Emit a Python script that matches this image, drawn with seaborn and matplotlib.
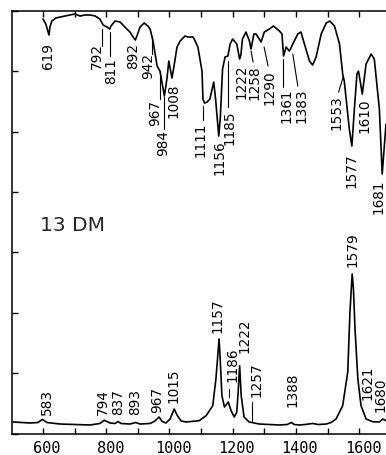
import numpy as np
import pandas as pd
import matplotlib
matplotlib.use("Agg")
import matplotlib.pyplot as plt
import matplotlib.transforms as mtransforms
from matplotlib.ticker import MultipleLocator, FuncFormatter
import seaborn as sns

# ---------------- data ----------------
# IR spectrum (upper trace, transmission-like, dips downward)
ir_wn = [600, 609, 619, 622, 628, 641, 654, 670, 685, 701, 717, 733, 749, 765, 780,
         790, 796, 803, 811, 815, 828, 844, 859, 875, 885, 892, 897, 907, 920, 932,
         939, 948, 961, 970, 984, 992, 998, 1008, 1014, 1024, 1034, 1049, 1059, 1075,
         1090, 1103, 1106, 1111, 1119, 1128, 1140, 1146, 1156, 1161, 1168, 1176, 1185,
         1192, 1200, 1213, 1222, 1226, 1231, 1242, 1253, 1258, 1267, 1274, 1290, 1300,
         1316, 1329, 1348, 1356, 1361, 1369, 1379, 1383, 1390, 1406, 1416, 1427, 1443,
         1453, 1464, 1480, 1496, 1507, 1522, 1538, 1548, 1553, 1559, 1569, 1577, 1585,
         1593, 1598, 1610, 1622, 1638, 1648, 1664, 1673, 1679, 1685]
ir_val = [6.867, 6.784, 6.602, 6.735, 6.834, 6.884, 6.900, 6.917, 6.934, 6.950, 6.917,
          6.934, 6.934, 6.917, 6.867, 6.768, 6.751, 6.735, 6.701, 6.751, 6.834, 6.817,
          6.735, 6.652, 6.569, 6.519, 6.585, 6.735, 6.801, 6.751, 6.701, 6.503, 6.088,
          6.005, 5.591, 5.872, 6.171, 5.889, 6.072, 6.403, 6.503, 6.585, 6.569, 6.569,
          6.403, 6.005, 5.541, 5.474, 5.491, 5.541, 5.822, 5.541, 4.928, 5.243, 6.038,
          6.238, 6.254, 6.453, 6.536, 6.453, 6.204, 6.271, 6.536, 6.652, 6.503, 6.370,
          6.619, 6.619, 6.486, 6.652, 6.701, 6.751, 6.668, 6.619, 6.254, 6.403, 6.337,
          6.370, 6.453, 6.619, 6.652, 6.453, 6.171, 6.105, 6.238, 6.619, 6.801, 6.834,
          6.751, 6.453, 5.955, 5.839, 5.541, 5.044, 4.762, 5.375, 5.955, 6.005, 5.624,
          6.122, 6.287, 6.204, 5.375, 4.300, 4.712, 5.127]

# Raman spectrum (lower trace, peaks upward)
raman_wn = [505, 559, 584, 598, 613, 654, 749, 780, 794, 812, 828, 837, 847, 875, 893,
            907, 939, 954, 967, 977, 989, 1002, 1015, 1024, 1037, 1053, 1094, 1116,
            1137, 1147, 1157, 1161, 1166, 1174, 1186, 1195, 1205, 1213, 1217, 1222,
            1227, 1236, 1252, 1284, 1348, 1372, 1386, 1395, 1411, 1429, 1453, 1470,
            1496, 1511, 1527, 1548, 1564, 1571, 1578, 1582, 1587, 1596, 1606, 1622,
            1643, 1664, 1675, 1685]
raman_val = [0.191, 0.174, 0.182, 0.232, 0.182, 0.157, 0.141, 0.166, 0.219, 0.174,
             0.166, 0.199, 0.166, 0.157, 0.182, 0.157, 0.166, 0.207, 0.273, 0.199,
             0.174, 0.240, 0.406, 0.306, 0.207, 0.191, 0.212, 0.295, 0.461, 0.903,
             1.566, 1.185, 0.626, 0.439, 0.522, 0.378, 0.273, 0.356, 0.654, 1.123,
             0.626, 0.273, 0.191, 0.157, 0.141, 0.149, 0.182, 0.149, 0.141, 0.149,
             0.166, 0.149, 0.157, 0.182, 0.240, 0.461, 1.019, 2.013, 2.643, 2.394,
             1.731, 0.903, 0.461, 0.240, 0.195, 0.191, 0.240, 0.212]

# peak labels
ir_labels = ["619", "792", "811", "892", "942", "967", "984", "1008", "1111", "1156",
             "1185", "1222", "1258", "1290", "1361", "1383", "1553", "1577", "1610", "1681"]
raman_labels = ["583", "794", "837", "893", "967", "1015", "1157", "1186", "1222",
                "1257", "1388", "1579", "1621", "1680"]
sample_name = "13 DM"
x_tick_values = [600, 800, 1000, 1200, 1400, 1600]

# ---------------- layout (annotation placement) ----------------
# (x, top-of-label y) for IR labels
ir_label_pos = [(616.8, 6.486), (770.9, 6.486), (816.8, 6.238), (886.4, 6.486),
                (933.9, 6.320), (954.4, 5.541), (980.7, 5.052), (1012.3, 5.822),
                (1100.0, 5.161), (1157.9, 4.879), (1189.6, 5.375), (1226.6, 6.122),
                (1268.7, 6.122), (1316.2, 6.038), (1369.0, 5.740), (1416.5, 5.740),
                (1527.2, 5.624), (1574.7, 4.664), (1616.8, 5.574), (1662.0, 4.217)]
ir_leaders = [((786.7, 6.701), (786.7, 6.420)), ((812.0, 6.652), (812.0, 6.254)),
              ((943.4, 6.585), (943.4, 6.287)), ((970.3, 6.005), (970.3, 5.541)),
              ((982.9, 5.574), (982.9, 5.052)), ((1107.3, 5.426), (1107.3, 5.194)),
              ((1184.5, 6.171), (1184.5, 5.408)), ((1258.2, 6.337), (1264.6, 6.155)),
              ((1299.4, 6.403), (1312.0, 6.088)), ((1360.5, 6.204), (1360.5, 5.740)),
              ((1390.2, 6.287), (1406.0, 5.757)), ((1549.4, 5.905), (1535.1, 5.657))]
# (x, bottom-of-label y) for Raman labels
raman_label_pos = [(611.7, 0.323), (789.9, 0.323), (836.4, 0.323), (891.1, 0.323),
                   (959.8, 0.356), (1014.6, 0.522), (1152.9, 1.682), (1200.3, 0.870),
                   (1237.0, 1.350), (1276.3, 0.621), (1388.0, 0.456), (1580.1, 2.775),
                   (1627.6, 0.571), (1667.0, 0.373)]
raman_leaders = [((1187.7, 0.605), (1187.7, 0.737)), ((1259.8, 0.207), (1259.8, 0.522))]

# ---------------- plotting ----------------
sns.set_style("ticks")
plt.rcParams["font.family"] = ["DejaVu Sans"]

W, H = 386, 456
fig = plt.figure(figsize=(W / 100, H / 100), dpi=100)
ax = fig.add_axes([12 / W, (H - 434.5) / H, (W - 12) / W, (434.5 - 12) / H])

ir_df = pd.DataFrame({"wavenumber": ir_wn, "signal": ir_val})
ra_df = pd.DataFrame({"wavenumber": raman_wn, "signal": raman_val})
sns.lineplot(data=ir_df, x="wavenumber", y="signal", ax=ax, color="black",
             lw=1.2, estimator=None, sort=False)
sns.lineplot(data=ra_df, x="wavenumber", y="signal", ax=ax, color="black",
             lw=1.2, estimator=None, sort=False)

ax.set_xlim(502, 1685)
ax.set_ylim(0, 7)
ax.set_xlabel("")
ax.set_ylabel("")

lab_kw = dict(rotation=90, ha="center", fontsize=9.8, color="black",
              family=["DejaVu Sans"], clip_on=False)
for t, (x, y) in zip(ir_labels, ir_label_pos):
    ax.text(x, y, t, va="top", **lab_kw)
for (p0, p1) in ir_leaders:
    ax.plot([p0[0], p1[0]], [p0[1], p1[1]], color="black", lw=0.8)
for t, (x, y) in zip(raman_labels, raman_label_pos):
    ax.text(x, y, t, va="bottom", **lab_kw)
for (p0, p1) in raman_leaders:
    ax.plot([p0[0], p1[0]], [p0[1], p1[1]], color="black", lw=0.8)

ax.text(590.5, 3.47, sample_name, ha="left", va="center", fontsize=14.5,
        family=["DejaVu Sans"])

ax.xaxis.set_major_locator(MultipleLocator(100))
ax.xaxis.set_major_formatter(FuncFormatter(
    lambda v, p: f"{int(round(v))}" if int(round(v)) in x_tick_values else ""))
ax.yaxis.set_major_locator(MultipleLocator(1))
ax.set_yticklabels([])
ax.tick_params(axis="both", direction="in", length=4, width=1.0, color="black")
ax.tick_params(axis="x", top=True, bottom=True, pad=5, labelsize=11,
               labelcolor="black")
ax.tick_params(axis="y", left=True, right=False)
for lbl in ax.get_xticklabels():
    lbl.set_family(["DejaVu Sans Mono"])

offset = mtransforms.ScaledTranslation(4 / 100, 0, fig.dpi_scale_trans)
for lbl in ax.get_xticklabels():
    lbl.set_transform(lbl.get_transform() + offset)

for side in ["left", "top", "bottom"]:
    ax.spines[side].set_linewidth(1.1)
    ax.spines[side].set_color("black")
ax.spines["right"].set_visible(False)

fig.savefig("out.png", dpi=100, facecolor="white")
